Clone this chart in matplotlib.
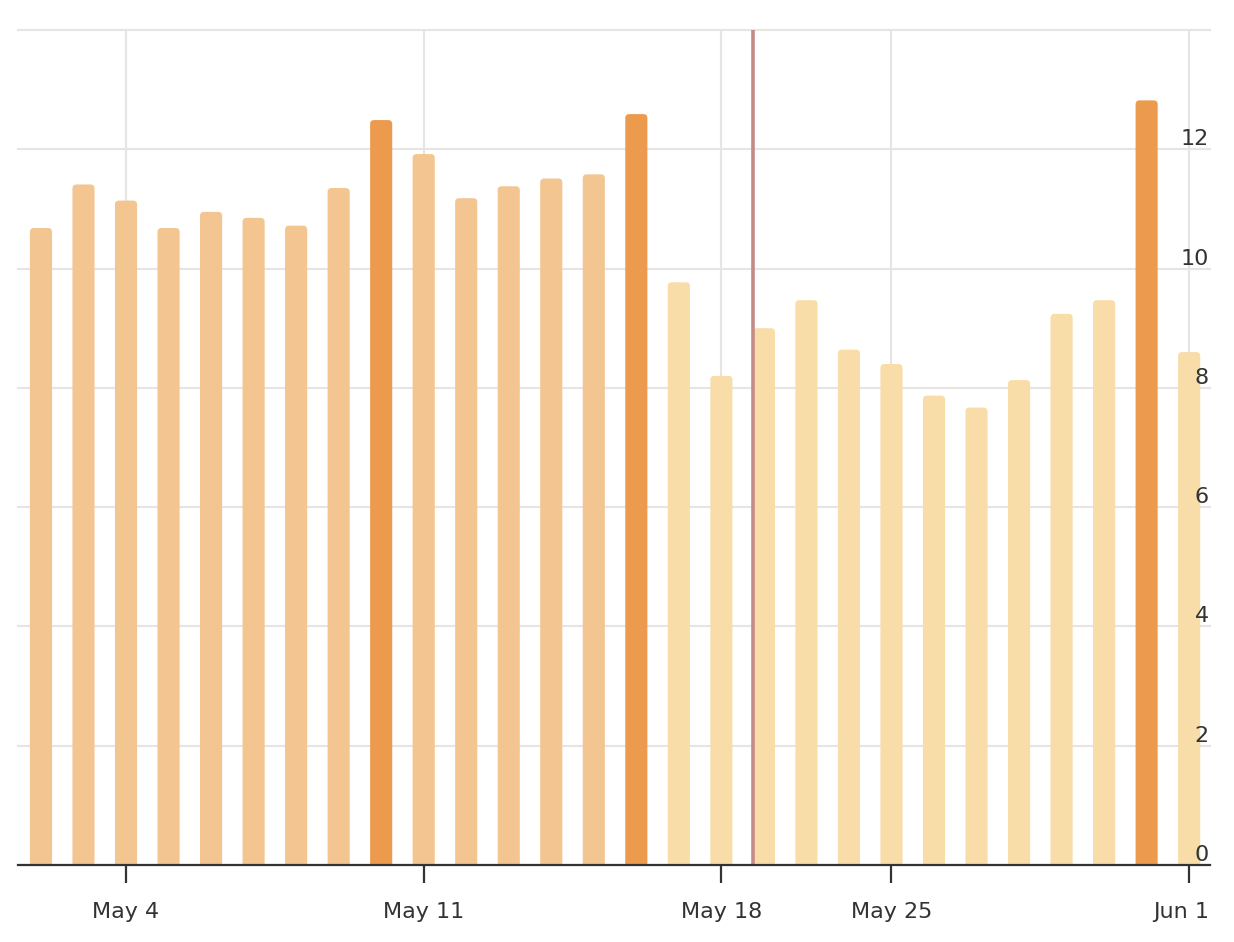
import matplotlib
matplotlib.use("Agg")
import matplotlib.pyplot as plt
import matplotlib.transforms as mtransforms
from matplotlib.patches import FancyBboxPatch
import numpy as np

# daily values, one bar per reported day (May 19-21 not reported)
dates = ["May 2", "May 3", "May 4", "May 5", "May 6", "May 7", "May 8",
         "May 9", "May 10", "May 11", "May 12", "May 13", "May 14", "May 15",
         "May 16", "May 17", "May 18", "May 22", "May 23", "May 24",
         "May 25", "May 26", "May 27", "May 28", "May 29", "May 30",
         "May 31", "Jun 1"]
values = [10.68, 11.41, 11.14, 10.68, 10.95, 10.85, 10.72, 11.35, 12.49,
          11.92, 11.18, 11.38, 11.51, 11.58, 12.59, 9.77, 8.20, 9.00, 9.47,
          8.64, 8.40, 7.87, 7.67, 8.13, 9.24, 9.47, 12.82, 8.60]
# 0 = earlier period, 1 = later period, 2 = highlighted day
groups = [0, 0, 0, 0, 0, 0, 0, 0, 2, 0, 0, 0, 0, 0, 2,
          1, 1, 1, 1, 1, 1, 1, 1, 1, 1, 1, 2, 1]
tick_dates = ["May 4", "May 11", "May 18", "May 25", "Jun 1"]
marker_date = "May 22"

colors = {0: "#F3C591", 1: "#F8DDA8", 2: "#EC9B4E"}
text_col = "#333333"
grid_col = "#E8E4E1"

fig = plt.figure(figsize=(12.34, 9.42), dpi=100)
ax = fig.add_axes([18 / 1234, 1 - 865 / 942, 1192 / 1234, 835 / 942])
ax.set_axisbelow(False)

x = np.arange(len(values))
width = 0.52
ax.set_xlim(-0.54, len(values) - 0.51)
ax.set_ylim(0, 14)

# gridlines
for v in range(0, 16, 2):
    ax.axhline(v, color=grid_col, lw=1.5, zorder=0, clip_on=False)
tick_pos = [dates.index(d) for d in tick_dates]
for p in tick_pos:
    ax.axvline(p, color=grid_col, lw=1.5, zorder=0)

# bars with rounded tops (bottom corners hidden below the axis)
rx = 4 / 42.52
ry = 4 / 59.75
for xi, v, g in zip(x, values, groups):
    patch = FancyBboxPatch((xi - width / 2, -1), width, v + 1,
                           boxstyle=f"round,pad=0,rounding_size={rx}",
                           mutation_aspect=ry / rx,
                           facecolor=colors[g], edgecolor="none", zorder=2)
    ax.add_patch(patch)

# marker line
mpos = dates.index(marker_date) - width / 2
ax.axvline(mpos, color="#C48B87", lw=2.6, zorder=3)

for s in ["top", "left", "right"]:
    ax.spines[s].set_visible(False)
ax.spines["bottom"].set_color(text_col)
ax.spines["bottom"].set_linewidth(1.6)
ax.spines["bottom"].set_zorder(4)

ax.set_xticks(tick_pos)
ax.set_xticklabels(tick_dates)
ax.tick_params(axis="x", length=13, width=1.6, color=text_col, pad=14,
               labelsize=16, labelcolor=text_col)
xl = ax.get_xticklabels()
xl[-1].set_ha("right")
xl[-1].set_transform(xl[-1].get_transform() +
                     mtransforms.ScaledTranslation(20 / 100, 0, fig.dpi_scale_trans))

ax.yaxis.tick_right()
ax.set_yticks(range(0, 16, 2))
ax.set_yticklabels([str(v) for v in range(0, 13, 2)] + [""])
ax.tick_params(axis="y", length=0, pad=-1, labelsize=16, labelcolor=text_col)
off = mtransforms.ScaledTranslation(0, 4 / 100, fig.dpi_scale_trans)
for lbl in ax.get_yticklabels():
    lbl.set_ha("right")
    lbl.set_va("baseline")
    lbl.set_transform(lbl.get_transform() + off)

fig.savefig("out.png", dpi=100)
